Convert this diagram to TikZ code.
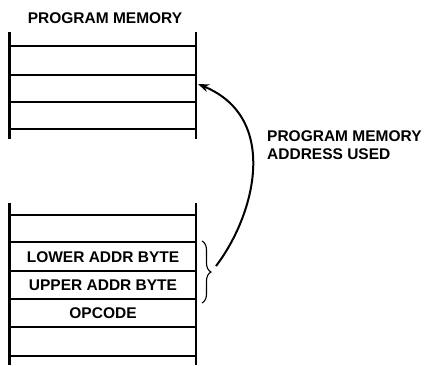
\documentclass[tikz,border=0pt]{standalone}
\usepackage{fontspec}
\setmainfont{Liberation Sans}
\usetikzlibrary{arrows.meta,decorations.pathreplacing}
\begin{document}
\begin{tikzpicture}[x=1pt,y=-1pt,
  memline/.style={line width=2pt},
  vline/.style={line width=2.3pt},
  lbl/.style={font=\bfseries\fontsize{15.5}{17.5}\selectfont, inner sep=0pt, anchor=center},
  rlbl/.style={font=\bfseries\fontsize{15.5}{17.5}\selectfont, inner sep=0pt, align=left, anchor=west},
  bracestyle/.style={line width=1.1pt, decorate, decoration={brace, amplitude=9pt}},
  arrowstyle/.style={line width=2pt, -{Stealth[length=11pt,width=8pt]}}]
\useasboundingbox (0,0) rectangle (429,365);
% title
\node[lbl] (title) at (105,18) {PROGRAM MEMORY};
% top memory block
\draw[vline] (9.5,32) -- (9.5,139);
\draw[vline] (196,32) -- (196,139);
\foreach \y in {46,75,102,129} \draw[memline] (9.5,\y) -- (196,\y);
% bottom memory block
\draw[vline] (9.5,203) -- (9.5,365);
\draw[vline] (196,203) -- (196,365);
\foreach \y in {215,242,271,299,327,356} \draw[memline] (9.5,\y) -- (196,\y);
\node[lbl] (lower) at (103,257) {LOWER ADDR BYTE};
\node[lbl] (upper) at (103,285) {UPPER ADDR BYTE};
\node[lbl] (opcode) at (103,313) {OPCODE};
% brace
\coordinate (btop) at (202,241);
\coordinate (bbot) at (202,303);
\draw[bracestyle] (btop) -- (bbot);
\coordinate (bstart) at (216,266);
\coordinate (target) at (198,84);
\draw[arrowstyle] (bstart) .. controls (255,215) and (280,118) .. (target);
% right label
\node[rlbl] (addr) at (267,145) {PROGRAM MEMORY\\ADDRESS USED};
\end{tikzpicture}
\end{document}
